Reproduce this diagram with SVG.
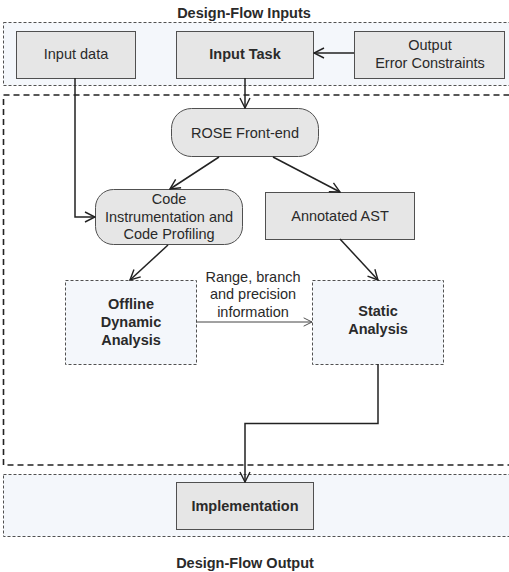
<svg xmlns="http://www.w3.org/2000/svg" width="509" height="572" viewBox="0 0 509 572">
<defs>
<marker id="arr" viewBox="0 0 12 12" refX="11" refY="6" markerWidth="12" markerHeight="12" markerUnits="userSpaceOnUse" orient="auto">
<path d="M1,1 L11,6 L1,11" fill="none" stroke="#222" stroke-width="1.4"/>
</marker>
<marker id="arrthin" viewBox="0 0 12 12" refX="11" refY="6" markerWidth="10" markerHeight="10" markerUnits="userSpaceOnUse" orient="auto">
<path d="M1,1 L11,6 L1,11" fill="none" stroke="#444" stroke-width="1.1"/>
</marker>
</defs>
<style>
text{font-family:"Liberation Sans",Arial,sans-serif;font-size:14.5px;fill:#2a2a2a;text-anchor:middle}
.b{font-weight:bold}
.box{fill:#e6e6e6;stroke:#505050;stroke-width:1}
.dbox{fill:#f4f7fb;stroke:#505050;stroke-width:1;stroke-dasharray:3,2}
.cont{fill:#f4f7fb;stroke:#505050;stroke-width:1;stroke-dasharray:3,2}
.big{fill:none;stroke:#222;stroke-width:1.6;stroke-dasharray:6,4}
.c{fill:none;stroke:#222;stroke-width:1.5}
.ct{fill:none;stroke:#444;stroke-width:1}
</style>
<rect width="509" height="572" fill="#fff"/>
<g id="inputs-container">
<rect class="cont" x="3.5" y="22.5" width="520" height="63"/>
<text class="b" x="244" y="18">Design-Flow Inputs</text>
</g>
<g id="main-container">
<rect class="big" x="3.5" y="95" width="520" height="370"/>
</g>
<g id="output-container">
<rect class="cont" x="3.5" y="474.5" width="520" height="62"/>
<text class="b" x="245" y="568">Design-Flow Output</text>
</g>
<g id="input-data">
<rect class="box" x="16.5" y="31.5" width="119" height="47"/>
<text x="76" y="59">Input data</text>
</g>
<g id="input-task">
<rect class="box" x="176.5" y="31.5" width="137" height="47"/>
<text class="b" x="245" y="59">Input Task</text>
</g>
<g id="output-error">
<rect class="box" x="354.5" y="31.5" width="150" height="47"/>
<text x="430" y="50">Output</text>
<text x="430" y="68">Error Constraints</text>
</g>
<g id="rose">
<rect class="box" x="171.5" y="108.5" width="147" height="48" rx="20" ry="20"/>
<text x="245" y="138">ROSE Front-end</text>
</g>
<g id="code-instr">
<rect class="box" x="95.5" y="189.5" width="147" height="55" rx="18" ry="18"/>
<text x="169" y="204">Code</text>
<text x="169" y="222">Instrumentation and</text>
<text x="169" y="239">Code Profiling</text>
</g>
<g id="annotated-ast">
<rect class="box" x="265.5" y="192.5" width="149" height="47"/>
<text x="340" y="221">Annotated AST</text>
</g>
<g id="offline">
<rect class="dbox" x="65.5" y="280.5" width="131" height="84"/>
<text class="b" x="131" y="309">Offline</text>
<text class="b" x="131" y="327">Dynamic</text>
<text class="b" x="131" y="345">Analysis</text>
</g>
<g id="static">
<rect class="dbox" x="312.5" y="280.5" width="131" height="84"/>
<text class="b" x="378" y="316">Static</text>
<text class="b" x="378" y="334">Analysis</text>
</g>
<g id="implementation">
<rect class="box" x="176.5" y="482.5" width="137" height="47"/>
<text class="b" x="245" y="511">Implementation</text>
</g>
<g id="connectors">
<line class="c" x1="354" y1="53" x2="314" y2="53" marker-end="url(#arr)"/>
<line class="c" x1="245" y1="78" x2="245" y2="108" marker-end="url(#arr)"/>
<polyline class="c" points="75,78 75,217 95,217" marker-end="url(#arr)"/>
<line class="c" x1="219" y1="157" x2="170" y2="189" marker-end="url(#arr)"/>
<line class="c" x1="273" y1="157" x2="340" y2="192" marker-end="url(#arr)"/>
<line class="c" x1="168" y1="245" x2="130" y2="280" marker-end="url(#arr)"/>
<line class="c" x1="340" y1="239" x2="378" y2="280" marker-end="url(#arr)"/>
<line class="ct" x1="196" y1="322" x2="312" y2="322" marker-end="url(#arrthin)"/>
<text x="253" y="282">Range, branch</text>
<text x="253" y="299">and precision</text>
<text x="253" y="317">information</text>
<polyline class="c" points="378,364 378,423.5 245,423.5 245,482" marker-end="url(#arr)"/>
</g>
</svg>
